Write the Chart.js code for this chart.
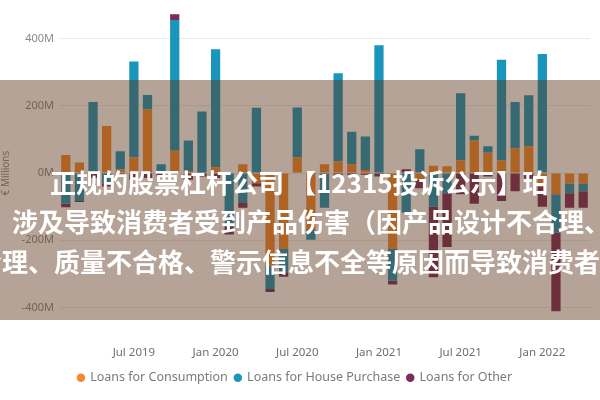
<!DOCTYPE html>
<html>
<head>
<meta charset="utf-8">
<script src="https://cdn.jsdelivr.net/npm/chart.js@4/dist/chart.umd.min.js"></script>
<style>
    html, body { margin: 0; padding: 0; background: #fff; }
    #wrap { position: relative; width: 600px; height: 400px; overflow: hidden; }
    #banner {
        position: absolute; left: 0; top: 80px; width: 600px; height: 240px;
        background: rgba(90, 50, 25, 0.45); overflow: hidden;
    }
    .line {
        position: absolute; white-space: nowrap; color: #fff;
        font-family: "Noto Sans CJK SC", "Noto Sans", sans-serif;
        font-weight: 700; font-size: 26px; line-height: 26px;
    }
</style>
</head>
<body>
<div id="wrap">
    <canvas id="chart" width="600" height="400"></canvas>
    <div id="banner">
        <div class="line" style="left:50px; top:89px;">正规的股票杠杆公司 【12315投诉公示】珀</div>
        <div class="line" style="left:12px; top:128px;">涉及导致消费者受到产品伤害（因产品设计不合理、</div>
        <div class="line" style="left:-24px; top:168px;">合理、质量不合格、警示信息不全等原因而导致消费者</div>
    </div>
</div>
<script>
// months shown on the x axis (one bar per month)
var months = [
    'Feb 2019', 'Mar 2019', 'Apr 2019', 'May 2019', 'Jun 2019', 'Jul 2019', 'Aug 2019', 'Sep 2019',
    'Oct 2019', 'Nov 2019', 'Dec 2019', 'Jan 2020', 'Feb 2020', 'Mar 2020', 'Apr 2020', 'May 2020',
    'Jun 2020', 'Jul 2020', 'Aug 2020', 'Sep 2020', 'Oct 2020', 'Nov 2020', 'Dec 2020', 'Jan 2021',
    'Feb 2021', 'Mar 2021', 'Apr 2021', 'May 2021', 'Jun 2021', 'Jul 2021', 'Aug 2021', 'Sep 2021',
    'Oct 2021', 'Nov 2021', 'Dec 2021', 'Jan 2022', 'Feb 2022', 'Mar 2022', 'Apr 2022'
];

// € millions
var consumption = [54, 31, 0, 140, 11, 46, 189, 0, 66, 6, 0, 17, 0, 26, -30, -274, -226, 46, -169, 26,
    34, 26, 9, 0, -226, 0, -20, 22, 20, 37, 97, 60, 37, 74, 80, -40, -63, -31, -31];
var housePurchase = [-91, -83, 211, -30, 54, 286, 43, 26, 389, 91, 183, 351, -160, -89, 194, -71, -71, 149, -29, -103,
    263, 97, 100, 380, -94, -117, 71, -100, -60, 200, 14, 20, 300, 137, 151, 354, -114, -29, -23];
var other = [-11, -3, -15, -10, -10, -20, -15, -10, 17, -20, -10, -15, -23, -14, -10, -9, -11, 0, 0, 0,
    -10, -5, -5, -10, -11, 11, -25, -210, -160, -63, -91, -10, -83, -54, -17, -60, -234, -43, -49];

var yTicks = [-400, -200, 0, 200, 400];

var ctx = document.getElementById('chart').getContext('2d');

new Chart(ctx, {
    type: 'bar',
    data: {
        labels: months,
        datasets: [
            { label: 'Loans for Consumption', data: consumption, backgroundColor: '#F28A30' },
            { label: 'Loans for House Purchase', data: housePurchase, backgroundColor: '#1A96BD' },
            { label: 'Loans for Other', data: other, backgroundColor: '#7B2D5A' }
        ]
    },
    options: {
        responsive: false,
        animation: false,
        layout: { padding: { left: 0, right: 10, top: 3, bottom: 6 } },
        datasets: {
            bar: { barPercentage: 0.68, categoryPercentage: 1.0 }
        },
        plugins: {
            legend: {
                position: 'bottom',
                labels: {
                    usePointStyle: true,
                    pointStyle: 'circle',
                    boxWidth: 6,
                    boxHeight: 6,
                    padding: 7,
                    color: '#7a7a7a',
                    font: { family: 'Noto Sans', size: 12.5 }
                }
            },
            tooltip: { enabled: false }
        },
        scales: {
            x: {
                stacked: true,
                grid: { display: false, drawTicks: false },
                border: { display: false },
                ticks: {
                    autoSkip: false,
                    maxRotation: 0,
                    padding: 11,
                    color: '#6e6e6e',
                    font: { family: 'Noto Sans', size: 11.5 },
                    callback: function(val, i) {
                        var label = months[i];
                        return (label.indexOf('Jan') === 0 || label.indexOf('Jul') === 0) ? label : '';
                    }
                },
                afterFit: function(scale) { scale.height = 30; }
            },
            y: {
                stacked: true,
                min: -480,
                max: 480,
                grid: { color: '#ebebeb', drawTicks: false },
                border: { display: false },
                ticks: {
                    padding: 5,
                    color: '#8a8a8a',
                    font: { family: 'Noto Sans', size: 11 },
                    callback: function(v) { return v + 'M'; }
                },
                afterBuildTicks: function(scale) {
                    scale.ticks = yTicks.map(function(v) { return { value: v }; });
                },
                title: {
                    display: true,
                    text: '€ Millions',
                    color: '#8a8a8a',
                    font: { family: 'Noto Sans', size: 10 },
                    padding: 0
                },
                afterFit: function(scale) { scale.width = 59; }
            }
        }
    }
});
</script>
</body>
</html>
